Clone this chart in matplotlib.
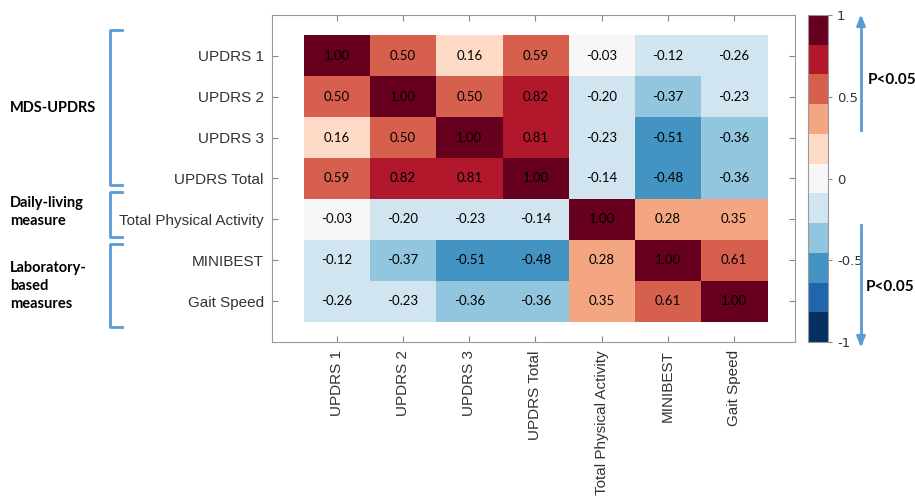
import matplotlib
matplotlib.use("Agg")
import matplotlib.pyplot as plt
import numpy as np
from matplotlib.colors import ListedColormap, Normalize
from matplotlib.lines import Line2D
import matplotlib.cm as cm

# data
labels = ["UPDRS 1", "UPDRS 2", "UPDRS 3", "UPDRS Total",
          "Total Physical Activity", "MINIBEST", "Gait Speed"]
corr = np.array([
    [1.00, 0.50, 0.16, 0.59, -0.03, -0.12, -0.26],
    [0.50, 1.00, 0.50, 0.82, -0.20, -0.37, -0.23],
    [0.16, 0.50, 1.00, 0.81, -0.23, -0.51, -0.36],
    [0.59, 0.82, 0.81, 1.00, -0.14, -0.48, -0.36],
    [-0.03, -0.20, -0.23, -0.14, 1.00, 0.28, 0.35],
    [-0.12, -0.37, -0.51, -0.48, 0.28, 1.00, 0.61],
    [-0.26, -0.23, -0.36, -0.36, 0.35, 0.61, 1.00],
])
groups = ["MDS-UPDRS", "Daily-living\nmeasure", "Laboratory-\nbased\nmeasures"]
cbar_ticks = [-1, -0.5, 0, 0.5, 1]

colors = ["#053061", "#2166ac", "#4393c3", "#92c5de", "#d1e5f0", "#f7f7f7",
          "#fddbc7", "#f4a582", "#d6604d", "#b2182b", "#67001f"]
cmap = ListedColormap(colors)
blue = "#5b9bd5"

W, H = 915, 498
fig = plt.figure(figsize=(W / 100, H / 100), dpi=100)


def fx(x):
    return x / W


def fy(y):
    return 1 - y / H


# heatmap axes
ax = fig.add_axes([fx(272), fy(342), fx(795) - fx(272), fy(15) - fy(342)])
ax.imshow(corr, cmap=cmap, norm=Normalize(-1, 1.01), aspect="auto",
          interpolation="nearest")
for i in range(corr.shape[0]):
    for j in range(corr.shape[1]):
        ax.text(j, i, f"{corr[i, j]:.2f}", ha="center", va="center",
                fontsize=9.5, family="Lato", color="black")
ax.set_xlim(-0.98, 6.92)
ax.set_ylim(6.99, -0.99)
ax.set_xticks(range(len(labels)))
ax.set_yticks(range(len(labels)))
ax.set_xticklabels(labels, rotation=90, fontsize=11, family="Liberation Sans",
                   color="#333333")
ax.set_yticklabels(labels, fontsize=11, family="Liberation Sans", color="#333333")
ax.tick_params(direction="in", top=True, right=True, length=4, color="#888888",
               pad=6)
for s in ax.spines.values():
    s.set_color("#999999")
    s.set_linewidth(0.8)

# colorbar
cax = fig.add_axes([fx(808), fy(342), fx(828) - fx(808), fy(15) - fy(342)])
sm = cm.ScalarMappable(norm=Normalize(-1, 1), cmap=cmap)
cb = fig.colorbar(sm, cax=cax, ticks=cbar_ticks)
cb.ax.set_yticklabels(["-1", "-0.5", "0", "0.5", "1"])
cb.ax.tick_params(labelsize=9.5, length=3, color="#888888", labelcolor="#333333")
cb.outline.set_edgecolor("#999999")
cb.outline.set_linewidth(0.8)

# brackets on the left
brackets = [(30, 185), (192, 237), (244, 327)]
for top, bot in brackets:
    xs = [fx(122), fx(110), fx(110), fx(122)]
    ys = [fy(top), fy(top), fy(bot), fy(bot)]
    fig.add_artist(Line2D(xs, ys, color=blue, lw=2, solid_joinstyle="round"))

group_y = [108, 212, 286]
for name, y in zip(groups, group_y):
    fig.text(fx(10), fy(y), name, ha="left", va="center", fontsize=10.5,
             family="Lato", fontweight="bold", linespacing=1.4)

# significance arrows
fig.add_artist(Line2D([fx(861), fx(861)], [fy(130), fy(20)], color=blue, lw=2))
fig.add_artist(Line2D([fx(861), fx(861)], [fy(225), fy(342)], color=blue, lw=2))
plt.annotate("", xy=(fx(861), fy(12)), xytext=(fx(861), fy(24)),
             xycoords="figure fraction",
             arrowprops=dict(arrowstyle="-|>,head_length=0.6,head_width=0.25",
                             color=blue, lw=2))
plt.annotate("", xy=(fx(861), fy(350)), xytext=(fx(861), fy(338)),
             xycoords="figure fraction",
             arrowprops=dict(arrowstyle="-|>,head_length=0.6,head_width=0.25",
                             color=blue, lw=2))
fig.text(fx(868), fy(80), "P<0.05", ha="left", va="center", fontsize=11,
         family="Lato", fontweight="bold")
fig.text(fx(866), fy(287), "P<0.05", ha="left", va="center", fontsize=11,
         family="Lato", fontweight="bold")

plt.savefig("out.png", dpi=100)
plt.close()
